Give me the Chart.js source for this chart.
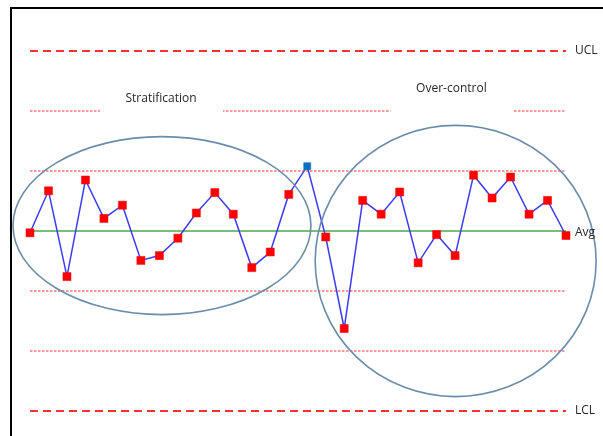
<!DOCTYPE html>
<html>
<head>
<meta charset="utf-8">
<script src="https://cdn.jsdelivr.net/npm/chart.js@4"></script>
<style>
  html, body { margin: 0; padding: 0; background: #fff; overflow: hidden; }
  #wrap { position: relative; width: 603px; height: 436px; }
  #frame { position: absolute; left: 10px; top: 7px; right: -5px; bottom: -5px;
           border-top: 2px solid #000; border-left: 2px solid #000; pointer-events: none; }
</style>
</head>
<body>
<div id="wrap">
  <canvas id="c" width="603" height="436"></canvas>
  <div id="frame"></div>
</div>
<script>
// ---- data ----
const samples = Array.from({length: 30}, (_, i) => String(i + 1));
const measurements = [49.7, 56.7, 42.4, 58.5, 52.1, 54.3, 45.1, 45.9, 48.8, 53.0,
                      56.4, 52.8, 43.9, 46.5, 56.1, 60.8, 49.0, 33.75, 55.1, 52.8,
                      56.5, 44.7, 49.4, 45.9, 59.3, 55.5, 59.0, 52.8, 55.1, 49.25];
const highlightIndex = 15;          // the point drawn in blue
const AVG = 50;
const SIGMA = 10;
const UCL = AVG + 3 * SIGMA;
const LCL = AVG - 3 * SIGMA;
const zoneLines = [AVG + 2 * SIGMA, AVG + SIGMA, AVG - SIGMA, AVG - 2 * SIGMA];
const limitLabels = ['UCL', 'Avg', 'LCL'];
const patternLabels = ['Stratification', 'Over-control'];
// annotation positions in data units (x = sample index, y = value)
const labelAnchors = [{x: 7.09, y: 72.1}, {x: 22.8, y: 73.75}];
const ellipses = [
  {cx: 7.14, cy: 50.9, rx: 8.06, ry: 14.83},
  {cx: 23.03, cy: 45.0, rx: 7.60, ry: 22.6}
];

const constant = v => samples.map(() => v);

const annotations = {
  id: 'annotations',
  afterDatasetsDraw(chart) {
    const {ctx, scales: {x, y}} = chart;
    ctx.save();
    // text boxes with white fill
    ctx.font = '12px "Open Sans", Lato, sans-serif';
    ctx.textAlign = 'center';
    ctx.textBaseline = 'middle';
    labelAnchors.forEach((a, i) => {
      const px = x.getPixelForValue(a.x), py = y.getPixelForValue(a.y);
      ctx.fillStyle = '#fff';
      ctx.fillRect(px - 61, py - 13, 123, 40);
      ctx.fillStyle = '#262626';
      ctx.fillText(patternLabels[i], px, py);
    });
    // ellipses
    ctx.strokeStyle = '#6a8cab';
    ctx.lineWidth = 1.6;
    ellipses.forEach(e => {
      const cx = x.getPixelForValue(e.cx), cy = y.getPixelForValue(e.cy);
      const rx = Math.abs(x.getPixelForValue(e.cx + e.rx) - cx);
      const ry = Math.abs(y.getPixelForValue(e.cy + e.ry) - cy);
      ctx.beginPath();
      ctx.ellipse(cx, cy, rx, ry, 0, 0, Math.PI * 2);
      ctx.stroke();
    });
    // limit labels
    ctx.textAlign = 'left';
    ctx.fillStyle = '#262626';
    ctx.font = '12px "Open Sans", Lato, sans-serif';
    const xr = x.right + 9;
    [UCL, AVG, LCL].forEach((v, i) => {
      ctx.fillText(limitLabels[i], xr, y.getPixelForValue(v) + (i === 1 ? 1.5 : 0));
    });
    ctx.restore();
  }
};

new Chart(document.getElementById('c'), {
  type: 'line',
  data: {
    labels: samples,
    datasets: [
      {
        label: 'Measurement',
        data: measurements,
        borderColor: '#3b3bf5',
        borderWidth: 1.5,
        pointStyle: 'rect',
        pointRadius: measurements.map((_, i) => i === highlightIndex ? 5 : 5.7),
        pointBackgroundColor: measurements.map((_, i) => i === highlightIndex ? '#0b6fc0' : '#ff0000'),
        pointBorderColor: measurements.map((_, i) => i === highlightIndex ? '#0b6fc0' : '#ff0000'),
        pointBorderWidth: 0.5,
        tension: 0,
        clip: false,
        order: 0
      },
      {
        label: 'Avg', data: constant(AVG), borderColor: '#4ea64b', borderWidth: 1.6,
        pointRadius: 0, order: 1
      },
      {
        label: 'UCL', data: constant(UCL), borderColor: '#ff3030', borderWidth: 1.8,
        borderDash: [8, 5], pointRadius: 0, order: 2
      },
      {
        label: 'LCL', data: constant(LCL), borderColor: '#ff3030', borderWidth: 1.8,
        borderDash: [8, 5], pointRadius: 0, order: 2
      },
      ...zoneLines.map(v => ({
        label: 'zone', data: constant(v), borderColor: '#ff3030', borderWidth: 1,
        borderDash: [2.5, 1.5], pointRadius: 0, order: 3
      }))
    ]
  },
  options: {
    responsive: false,
    animation: false,
    events: [],
    layout: { padding: { left: 30, right: 37, top: 39, bottom: 13 } },
    scales: {
      x: { display: false, offset: false },
      y: { display: false, min: 18, max: 82 }
    },
    plugins: { legend: { display: false }, tooltip: { enabled: false } }
  },
  plugins: [annotations]
});
</script>
</body>
</html>
